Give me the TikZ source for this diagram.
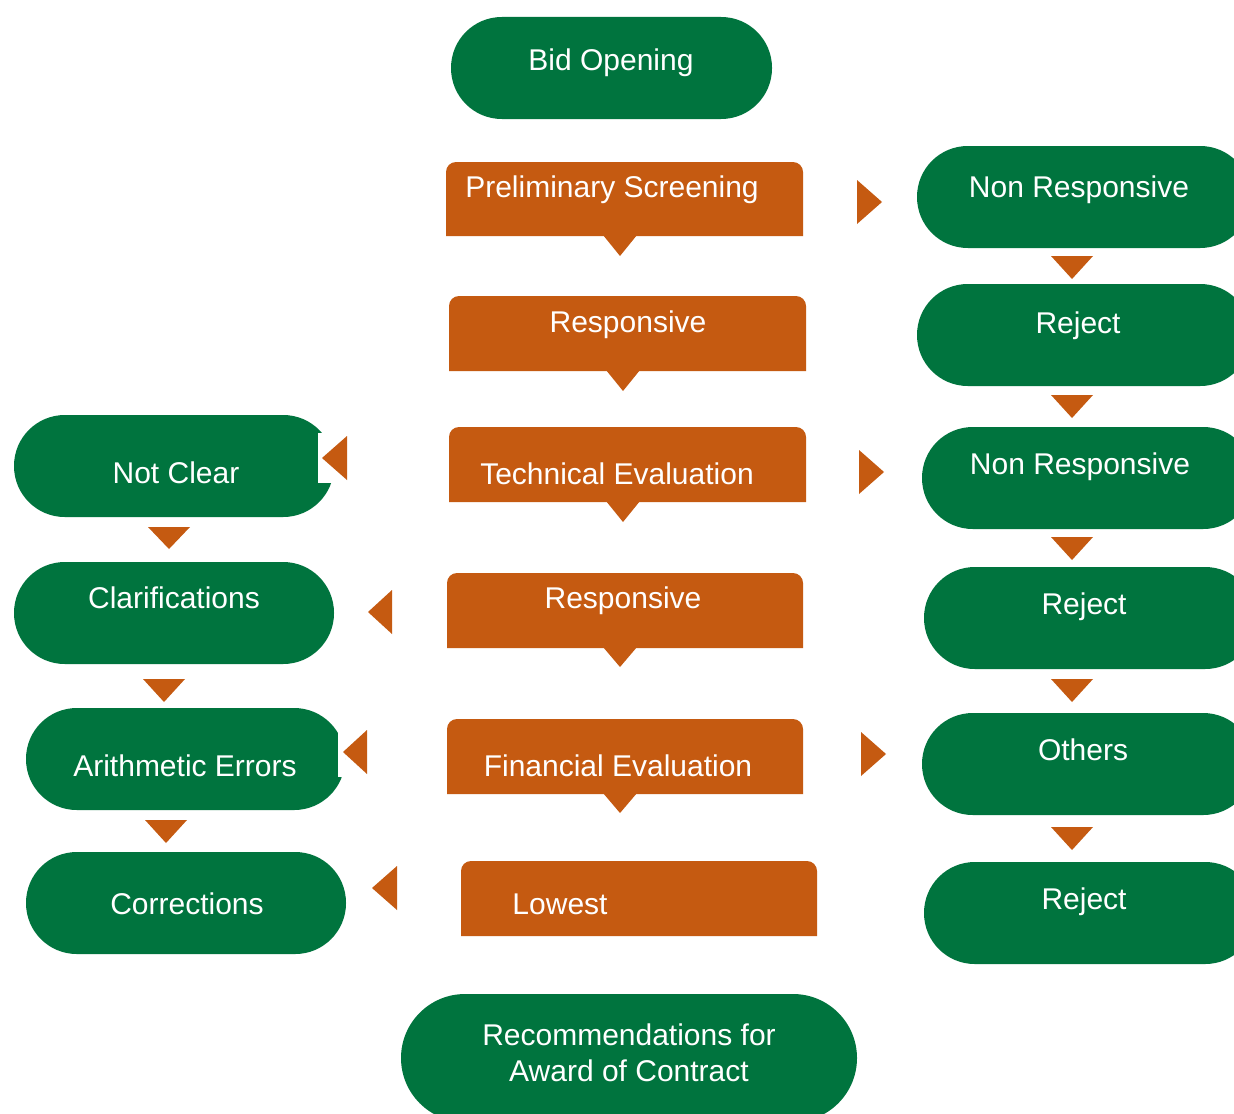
\documentclass[tikz,border=0pt]{standalone}
\usepackage{fontspec}
\setmainfont{Liberation Sans}
\definecolor{gfill}{RGB}{0,116,62}
\definecolor{ofill}{RGB}{197,90,17}
\newcommand\obox[4]{% x1 y1 x2 y2
  \fill[ofill] (#1,#4) -- (#1,#2+10) arc[start angle=180,end angle=90,radius=5pt]
    -- (#3-10,#2) arc[start angle=90,end angle=0,radius=5pt] -- (#3,#4) -- cycle;}
\newcommand\otri[3]{% cx ytop yapex (small, below orange box)
  \fill[ofill] (#1-17,#2) -- (#1+17,#2) -- (#1,#3) -- cycle;}
\newcommand\gtri[3]{% cx ytop yapex (between green boxes)
  \fill[ofill] (#1-21,#2) -- (#1+21,#2) -- (#1,#3) -- cycle;}
\newcommand\rtri[3]{% xbase ymid xapex
  \fill[ofill] (#1,#2-22) -- (#1,#2+22) -- (#3,#2) -- cycle;}
\tikzset{
  lbl/.style={inner sep=0pt, anchor=base, text=white, font=\fontsize{15}{18}\selectfont},
  gst/.style={fill=gfill, rounded corners=25.4pt},
}
\begin{document}
\begin{tikzpicture}[x=0.5pt,y=-0.5pt]
\useasboundingbox (0,0) rectangle (1234,1113);
\fill[white] (0,0) rectangle (1234,1113);
\clip (0,0) rectangle (1234,1113);

% ---- green stadiums
\fill[gst] (451,17) rectangle (772,119);
\fill[gst] (917,146) rectangle (1251,248);
\fill[gst] (917,284) rectangle (1251,386);
\fill[gst] (922,427) rectangle (1254,529);
\fill[gst] (924,567) rectangle (1256,669);
\fill[gst] (922,713) rectangle (1254,815);
\fill[gst] (924,862) rectangle (1256,964);
\fill[gst] (14,415) rectangle (334,517);
\fill[gst] (14,562) rectangle (334,664);
\fill[gst] (26,708) rectangle (345,810);
\fill[gst] (26,852) rectangle (346,954);
\fill[fill=gfill, rounded corners=32pt] (401,994) rectangle (857,1122);

% ---- white notches beside left arrows
\fill[white] (318,433) rectangle (336,483);
\fill[white] (338,730) rectangle (345,777);

% ---- orange boxes
\obox{446}{162}{803}{236}
\obox{449}{296}{806}{371}
\obox{449}{427}{806}{502}
\obox{447}{573}{803}{648}
\obox{447}{719}{803}{794}
\obox{461}{861}{817}{936}
\otri{620}{235}{256}
\otri{623}{370}{391}
\otri{623}{501}{522}
\otri{620}{647}{667}
\otri{620}{793}{813}

% ---- down triangles in side columns
\gtri{1072}{256}{279}
\gtri{1072}{395}{418}
\gtri{1072}{537}{560}
\gtri{1072}{679}{702}
\gtri{1072}{827}{850}
\gtri{169}{527}{549}
\gtri{164}{679}{702}
\gtri{166}{820}{843}

% ---- side arrows
\rtri{857}{202}{882}
\rtri{859}{472}{884}
\rtri{861}{754}{886}
\rtri{347}{458}{322}
\rtri{392}{612}{368}
\rtri{367}{752}{343}
\rtri{397}{888}{372}

% ---- labels
\node[lbl] (tbid) at (611,71) {Bid Opening};
\node[lbl] (tps) at (612,197) {Preliminary Screening};
\node[lbl] (tr1) at (628,332) {Responsive};
\node[lbl] (tte) at (617,484) {Technical Evaluation};
\node[lbl] (tr2) at (623,608) {Responsive};
\node[lbl] (tfe) at (618,776) {Financial Evaluation};
\node[lbl] (tlo) at (560,914) {Lowest};
\node[lbl] (trec1) at (629,1045) {Recommendations for};
\node[lbl] (trec2) at (629,1081) {Award of Contract};
\node[lbl] (tnr1) at (1079,197) {Non Responsive};
\node[lbl] (trj1) at (1078,333) {Reject};
\node[lbl] (tnr2) at (1080,474) {Non Responsive};
\node[lbl] (trj2) at (1084,614) {Reject};
\node[lbl] (toth) at (1083,760) {Others};
\node[lbl] (trj3) at (1084,909) {Reject};
\node[lbl] (tnc) at (176,483) {Not Clear};
\node[lbl] (tcl) at (174,608) {Clarifications};
\node[lbl] (tae) at (185,776) {Arithmetic Errors};
\node[lbl] (tco) at (187,914) {Corrections};
\end{tikzpicture}
\end{document}
